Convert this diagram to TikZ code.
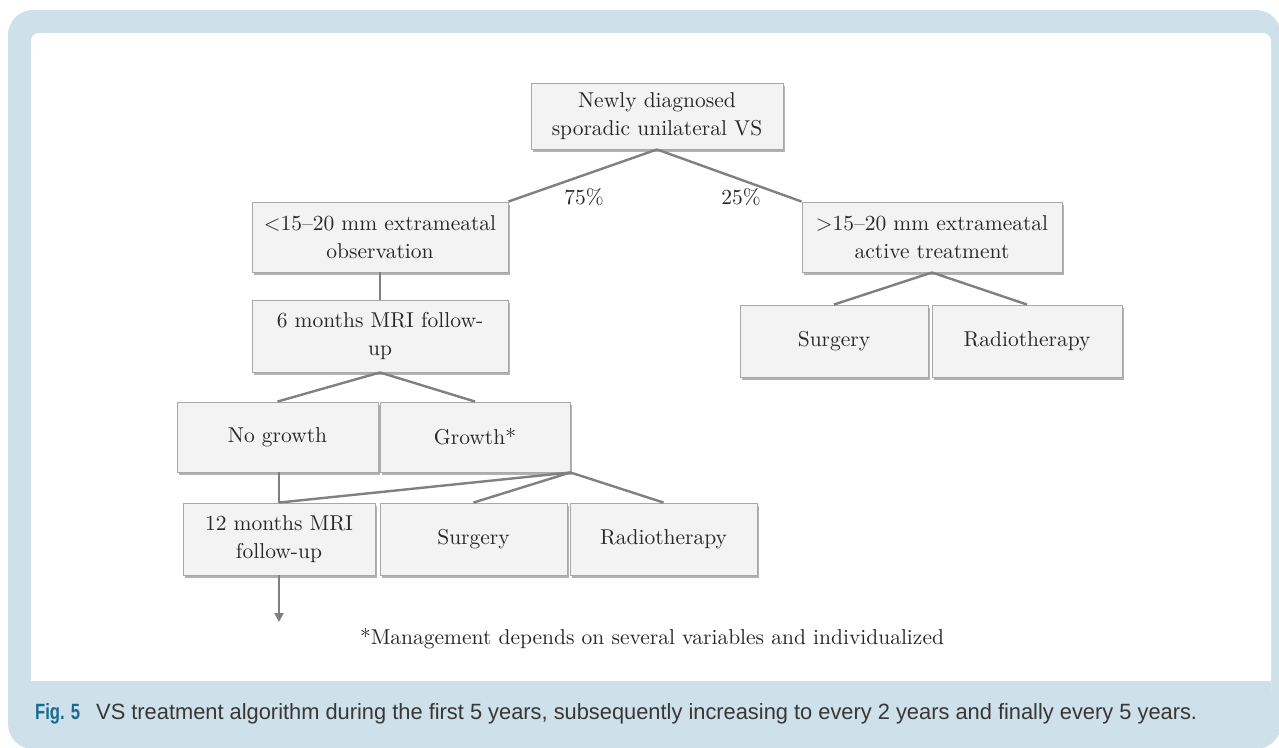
\documentclass[tikz,border=0pt]{standalone}
\usepackage{fontspec}
\setmainfont{lmroman10-regular.otf}
\newfontfamily\capfont{Liberation Sans}
\usetikzlibrary{shadows,arrows.meta}
\definecolor{framecol}{RGB}{206,224,234}
\definecolor{figblue}{RGB}{24,108,148}
\definecolor{conncol}{RGB}{128,128,128}
\definecolor{boxfill}{RGB}{243,243,243}
\definecolor{boxline}{RGB}{168,168,168}
\definecolor{txtcol}{RGB}{40,40,40}
\definecolor{captxt}{RGB}{55,55,55}
\newcommand{\boxfont}{\fontsize{21.5}{28}\selectfont}
\tikzset{
  box/.style={draw=boxline, line width=0.9pt, fill=boxfill, text=txtcol,
    drop shadow={shadow xshift=1.5pt, shadow yshift=-2.5pt, opacity=0.3, fill=black},
    align=center, inner sep=0pt, font=\boxfont},
  conn/.style={draw=conncol, line width=2.4pt},
  pct/.style={text=txtcol, font=\boxfont, inner sep=0pt}
}
\begin{document}
\begin{tikzpicture}[x=1pt,y=-1pt]
\useasboundingbox (0,0) rectangle (1279,747);
\begin{scope}
\clip (0,0) rectangle (1279,747);
\fill[framecol, rounded corners=25pt] (8,10) rectangle (1281,749);
\end{scope}
\fill[white, rounded corners=8pt] (31,33) rectangle (1271,700);
\fill[framecol] (31,681) rectangle (1271,702);

% boxes
\node[box, minimum width=252pt, minimum height=66pt] (top) at (657,116) {Newly diagnosed\\sporadic unilateral VS};
\node[box, minimum width=256pt, minimum height=70pt] (obs) at (380,237) {<15--20 mm extrameatal\\observation};
\node[box, minimum width=260pt, minimum height=70pt] (act) at (932,237) {>15--20 mm extrameatal\\active treatment};
\node[box, minimum width=256pt, minimum height=72pt] (six) at (380,336) {6 months MRI follow-\\up};
\node[box, minimum width=188pt, minimum height=72pt] (surgR) at (834,341) {Surgery};
\node[box, minimum width=190pt, minimum height=72pt] (radR) at (1027,341) {Radiotherapy};
\node[box, minimum width=201pt, minimum height=70pt] (nog) at (277.5,437) {No growth};
\node[box, minimum width=190pt, minimum height=70pt] (gro) at (475,437) {Growth*};
\node[box, minimum width=192pt, minimum height=72pt] (twelve) at (279,539) {12 months MRI\\follow-up};
\node[box, minimum width=187pt, minimum height=72pt] (surgL) at (473.5,539) {Surgery};
\node[box, minimum width=187pt, minimum height=72pt] (radL) at (663.5,539) {Radiotherapy};

% connectors
\draw[conn] (top.south) -- (obs.north east);
\draw[conn] (top.south) -- (act.north west);
\draw[conn] (obs.south) -- (six.north);
\draw[conn] (six.south) -- (nog.north);
\draw[conn] (six.south) -- (gro.north);
\draw[conn] (act.south) -- (surgR.north);
\draw[conn] (act.south) -- (radR.north);
\draw[conn] (nog.south -| twelve.north) -- (twelve.north);
\draw[conn] (gro.south east) -- (twelve.north);
\draw[conn] (gro.south east) -- (surgL.north);
\draw[conn] (gro.south east) -- (radL.north);
\coordinate (arrowend) at (279,622);
\draw[conn, line width=2pt, -{Triangle[length=9pt,width=9pt]}] (twelve.south) -- (arrowend);

% labels
\node[pct] (p75) at (584,197) {75\%};
\node[pct] (p25) at (741,197) {25\%};
\node[pct] (note) at (652,639) {*Management depends on several variables and individualized};

% caption
\node[anchor=west, inner sep=0pt, text=figblue] (fig) at (35,714) {\resizebox{45pt}{16pt}{\capfont\bfseries Fig. 5}};
\node[anchor=west, inner sep=0pt, text=captxt] (cap) at (96,714) {\resizebox{1101pt}{16pt}{\capfont VS treatment algorithm during the first 5 years, subsequently increasing to every 2 years and finally every 5 years.}};
\end{tikzpicture}
\end{document}
